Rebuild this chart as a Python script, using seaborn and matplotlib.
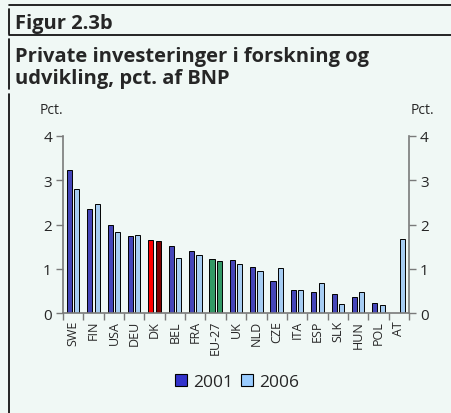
import numpy as np
import pandas as pd
import matplotlib
matplotlib.use("Agg")
import matplotlib.pyplot as plt
from matplotlib.lines import Line2D
from matplotlib.patches import Patch
import seaborn as sns

# Data
lande = ["SWE", "FIN", "USA", "DEU", "DK", "BEL", "FRA", "EU-27", "UK",
         "NLD", "CZE", "ITA", "ESP", "SLK", "HUN", "POL", "AT"]
pct_2001 = [3.23, 2.35, 1.99, 1.73, 1.65, 1.52, 1.39, 1.21, 1.20,
            1.05, 0.73, 0.53, 0.48, 0.42, 0.36, 0.22, np.nan]
pct_2006 = [2.80, 2.46, 1.84, 1.77, 1.62, 1.25, 1.32, 1.17, 1.10,
            0.95, 1.02, 0.53, 0.68, 0.21, 0.48, 0.17, 1.67]
aar = ["2001", "2006"]

farver = {"2001": "#3333cc", "2006": "#99ccff"}
saerfarver = {("DK", "2001"): "#ff0000", ("DK", "2006"): "#800000",
              ("EU-27", "2001"): "#339966", ("EU-27", "2006"): "#339966"}
bg = "#f0f8f5"
grey = "#7a7a7a"

W, H = 452, 414


def fx(px):
    return px / W


def fy(px):
    return 1 - px / H


sns.set_style("ticks")
plt.rcParams["font.family"] = ["Open Sans", "DejaVu Sans"]

df = pd.DataFrame({
    "land": lande * 2,
    "aar": ["2001"] * len(lande) + ["2006"] * len(lande),
    "pct": pct_2001 + pct_2006,
})

fig = plt.figure(figsize=(W / 100, H / 100), dpi=100, facecolor=bg)
ax = fig.add_axes([fx(63), fy(314), fx(409) - fx(63), fy(137) - fy(314)])
ax.set_facecolor(bg)

sns.barplot(data=df, x="land", y="pct", hue="aar", order=lande, hue_order=aar,
            palette=farver, width=0.72, gap=0.3, edgecolor="black",
            linewidth=0.7, legend=False, ax=ax)

# DK og EU-27 i egne farver
for cont, a in zip(ax.containers, aar):
    for bar in cont:
        idx = int(round(bar.get_x() + bar.get_width() / 2))
        key = (lande[idx], a)
        if key in saerfarver:
            bar.set_facecolor(saerfarver[key])

ax.set_xlim(-0.5, len(lande) - 0.5)
ax.set_ylim(0, 4)
ax.set_yticks([0, 1, 2, 3, 4])
ax.set_xticks(np.arange(-0.5, len(lande)), labels=[])
ax.set_xticks(np.arange(len(lande)), labels=lande, minor=True)
ax.tick_params(axis="x", which="major", direction="out", length=5, width=1, color=grey)
ax.tick_params(axis="x", which="minor", length=0, labelsize=9, rotation=90, pad=5)
ax.tick_params(axis="y", direction="out", length=5, width=1, color=grey,
               labelsize=11, left=True, right=True, labelleft=True, labelright=True, pad=3)
ax.set_xlabel("")
ax.set_ylabel("")
for side in ["left", "right", "bottom"]:
    ax.spines[side].set_visible(True)
    ax.spines[side].set_color(grey)
    ax.spines[side].set_linewidth(1.2)
ax.spines["top"].set_visible(False)

fig.text(fx(40), fy(114), "Pct.", fontsize=10, va="baseline", ha="left")
fig.text(fx(411), fy(114), "Pct.", fontsize=10, va="baseline", ha="left")

# titler
fig.text(fx(15), fy(29), "Figur 2.3b", fontsize=14.5, fontweight="bold",
         va="baseline", ha="left")
fig.text(fx(15), fy(62), "Private investeringer i forskning og",
         fontsize=14.5, fontweight="bold", va="baseline", ha="left")
fig.text(fx(15), fy(84), "udvikling, pct. af BNP",
         fontsize=14.5, fontweight="bold", va="baseline", ha="left")

# rammelinjer
fig.add_artist(Line2D([fx(9), 1], [fy(6)] * 2, color="black", lw=1.2))
fig.add_artist(Line2D([fx(9), 1], [fy(36)] * 2, color="black", lw=1.2))
fig.add_artist(Line2D([fx(9)] * 2, [fy(10), fy(35)], color="black", lw=1.2))
fig.add_artist(Line2D([fx(9)] * 2, [fy(40), fy(90)], color="black", lw=1.2))
fig.add_artist(Line2D([fx(9)] * 2, [fy(95), 0], color="black", lw=1.2))

handles = [Patch(facecolor=farver[a], edgecolor="black", linewidth=0.8, label=a) for a in aar]
fig.legend(handles=handles, loc="center", bbox_to_anchor=(fx(237), fy(383)), ncol=2,
           frameon=False, fontsize=12.5, handlelength=0.7, handleheight=0.7,
           handletextpad=0.3, columnspacing=0.5)

fig.savefig("out.png", dpi=100, facecolor=bg)
